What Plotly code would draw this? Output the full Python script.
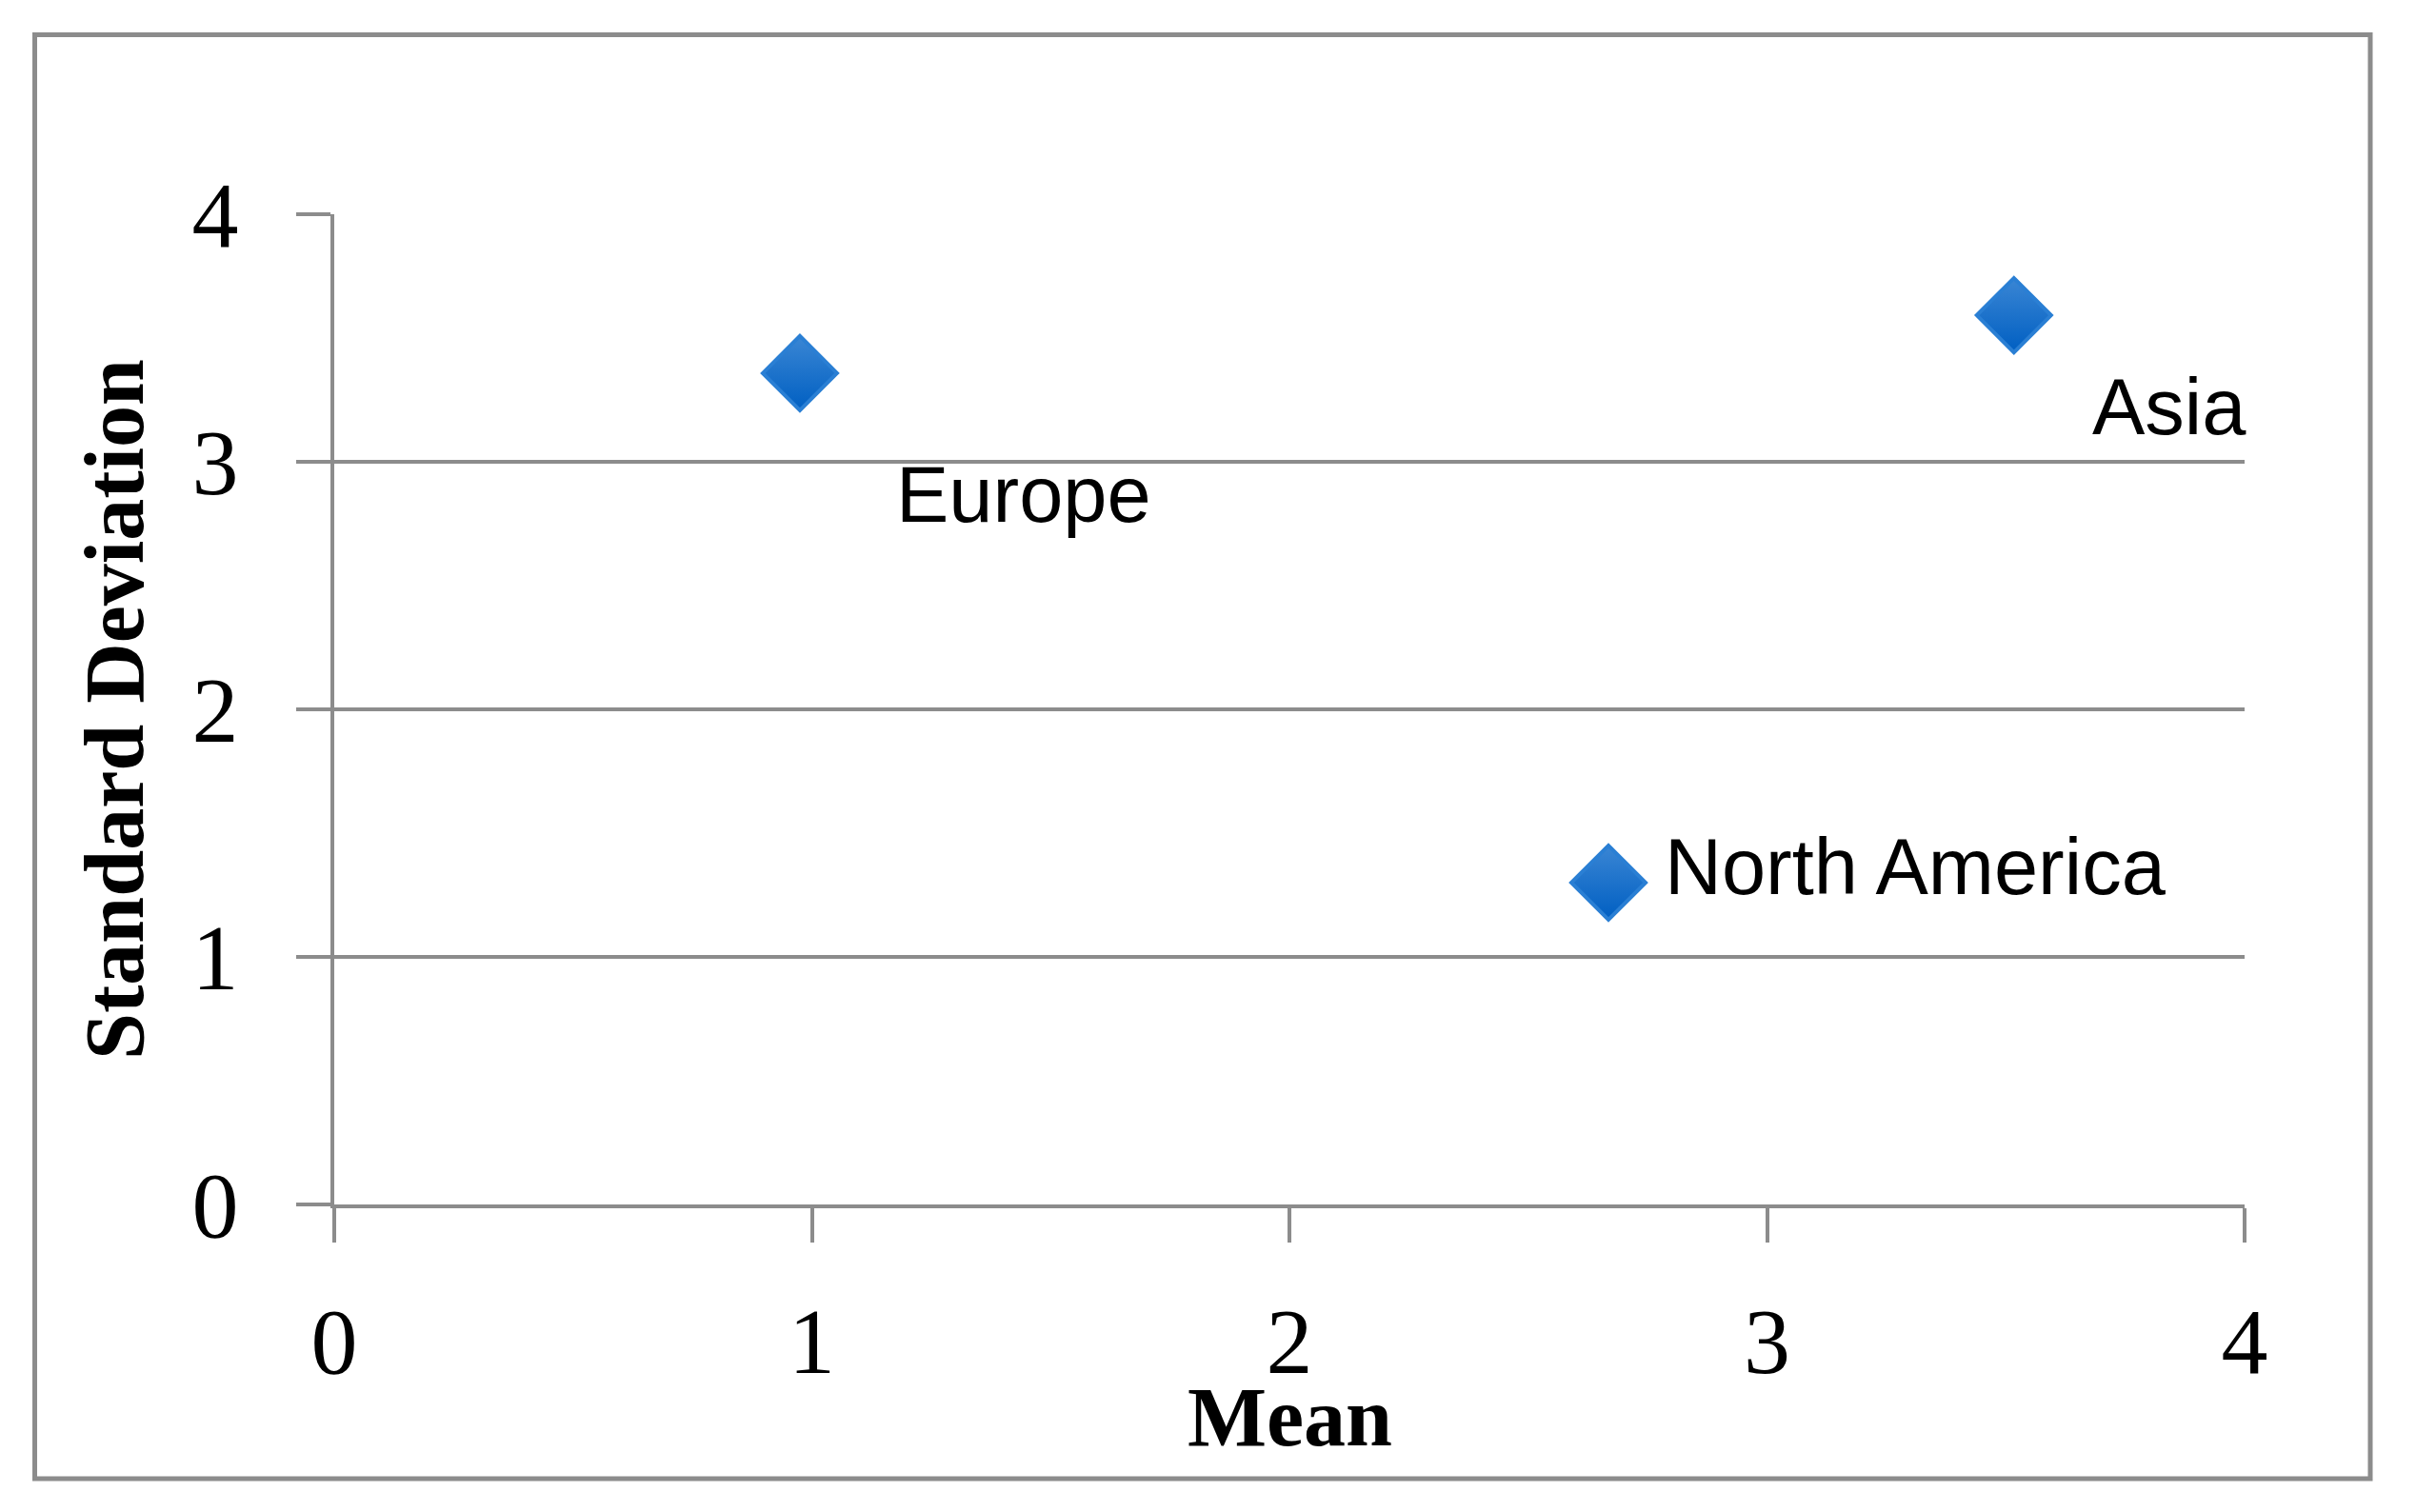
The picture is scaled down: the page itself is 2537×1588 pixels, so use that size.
import plotly.graph_objects as go

regions = ["Europe", "North America", "Asia"]
mean_vals = [0.975, 2.668, 3.517]
sd_vals = [3.358, 1.300, 3.592]
tick_vals = [0, 1, 2, 3, 4]
tick_text = ["0", "1", "2", "3", "4"]
x_title = "Mean"
y_title = "Standard Deviation"

# label offsets in pixels (style, not data)
label_shift = {"Europe": (99, -128), "North America": (57, 17), "Asia": (80, -96)}

OFF = 8  # page body margin
W, H = 2537 - 2 * OFF, 1588 - 2 * OFF
L, T = 351 - OFF, 225 - OFF
pw, ph = 2006, 1040
R, B = W - L - pw, H - T - ph
grey = "#8c8c8c"

fig = go.Figure()
fig.add_trace(go.Scatter(
    x=mean_vals, y=sd_vals, mode="markers",
    marker=dict(symbol="diamond", size=60, color="#3a86d4",
                gradient=dict(type="vertical", color="#005fc2"),
                line=dict(color="#2a7fd4", width=4)),
    hoverinfo="x+y", showlegend=False, cliponaxis=False,
))

for name, xv, yv in zip(regions, mean_vals, sd_vals):
    dx, dy = label_shift[name]
    fig.add_annotation(x=xv, y=yv, xref="x", yref="y", text=name, showarrow=False,
                       xanchor="left", yanchor="middle", xshift=dx, yshift=dy,
                       font=dict(family="Liberation Sans, Arial, sans-serif", size=83, color="black"))

# page pixels -> paper coords
px = lambda p: (p - OFF - L) / pw
py = lambda p: (T + ph - (p - OFF)) / ph

tick_font = dict(family="Liberation Serif, Times New Roman, serif", size=98, color="black")
title_font = dict(family="Liberation Serif, Times New Roman, serif", size=88, color="black")

# x-axis title
fig.add_annotation(x=0.5, y=py(1488), xref="paper", yref="paper", text="<b>" + x_title + "</b>",
                   showarrow=False, xanchor="center", yanchor="middle", font=title_font)

# outer border
fig.add_shape(type="rect", xref="paper", yref="paper",
              x0=px(36.5), x1=px(2489), y0=py(1553), y1=py(36.5),
              line=dict(color=grey, width=5), fillcolor="rgba(0,0,0,0)", layer="below")

fig.update_layout(
    width=W, height=H,
    margin=dict(l=L, r=R, t=T, b=B, autoexpand=False),
    paper_bgcolor="white", plot_bgcolor="white",
    xaxis=dict(range=[0, 4], tickvals=tick_vals, ticktext=tick_text,
               showgrid=False, zeroline=False, showline=True, linecolor=grey, linewidth=4,
               ticks="outside", ticklen=36, tickwidth=4, tickcolor=grey,
               tickfont=tick_font, ticklabelstandoff=19,
               automargin=False, fixedrange=True),
    yaxis=dict(range=[0, 4], tickvals=tick_vals, ticktext=tick_text,
               showgrid=True, gridcolor=grey, gridwidth=4, zeroline=False,
               showline=True, linecolor=grey, linewidth=4,
               ticks="outside", ticklen=36, tickwidth=4, tickcolor=grey,
               tickfont=tick_font, ticklabelstandoff=41,
               title=dict(text="<b>" + y_title + "</b>", font=title_font, standoff=23),
               automargin=False, fixedrange=True),
)

fig.write_html("out.html")
